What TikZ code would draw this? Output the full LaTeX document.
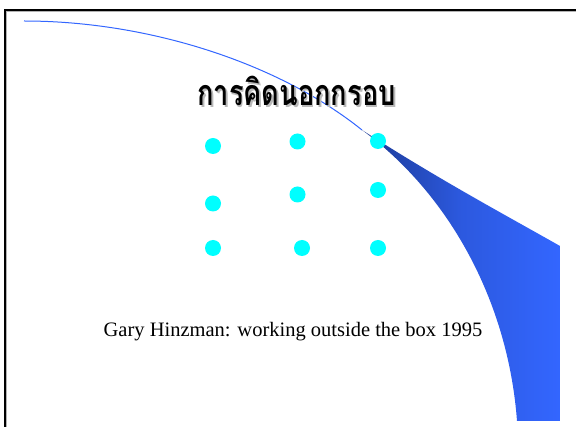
\documentclass[tikz,border=0pt]{standalone}
\usepackage{fontspec}
\setmainfont{Liberation Serif}
\newfontfamily\thaifont[Script=Thai]{Loma}
\definecolor{dotcyan}{HTML}{00FFFF}
\definecolor{swooshdark}{HTML}{1C3A94}
\definecolor{swooshlight}{HTML}{3366FF}
\newcommand{\shadowtext}[1]{\makebox[0pt][l]{\raisebox{-2pt}{\hspace{2pt}\textcolor{gray!55}{#1}}}#1}
\tikzset{
  dotnode/.style={circle, fill=dotcyan, inner sep=0pt, minimum size=16pt},
  frameline/.style={line width=1.6pt, black},
  titletext/.style={font=\thaifont\bfseries\fontsize{32}{38}\selectfont, xscale=0.85, yscale=1.12, transform shape},
}
\begin{document}
\begin{tikzpicture}[x=1pt,y=-1pt]
\useasboundingbox (0,0) rectangle (576,427);
% frame
\draw[gray!60, line width=1pt] (6.5,427) -- (6.5,11.5) -- (576,11.5);
\draw[frameline] (5,427) -- (5,10) -- (576,10);
% thin line
\coordinate (lstart) at (24,21);
\coordinate (tip) at (362,130);
\draw[swooshlight, line width=1pt] (lstart) .. controls (150,21) and (280,64) .. (tip);
% swoosh
\shade[left color=swooshdark, right color=swooshlight, middle color=swooshlight!70!swooshdark]
  (tip) .. controls (440,180) and (500,212) .. (560,246) -- (560,421) -- (517,421)
  .. controls (508,300) and (448,193) .. (tip) -- cycle;
% title
\node[titletext] (title) at (296.5,92) {\shadowtext{การคิดนอกกรอบ}};
% dots
\node[dotnode] (d11) at (213,146) {};
\node[dotnode] (d12) at (297.5,141.5) {};
\node[dotnode] (d13) at (378,141) {};
\node[dotnode] (d21) at (213,203.5) {};
\node[dotnode] (d22) at (297.5,194.5) {};
\node[dotnode] (d23) at (378,190) {};
\node[dotnode] (d31) at (213,248) {};
\node[dotnode] (d32) at (302,248) {};
\node[dotnode] (d33) at (378,248) {};
% subtitle
\node (sub) at (293,332) {\fontsize{20.5}{24}\selectfont Gary Hinzman: working outside the box 1995};
\end{tikzpicture}
\end{document}
